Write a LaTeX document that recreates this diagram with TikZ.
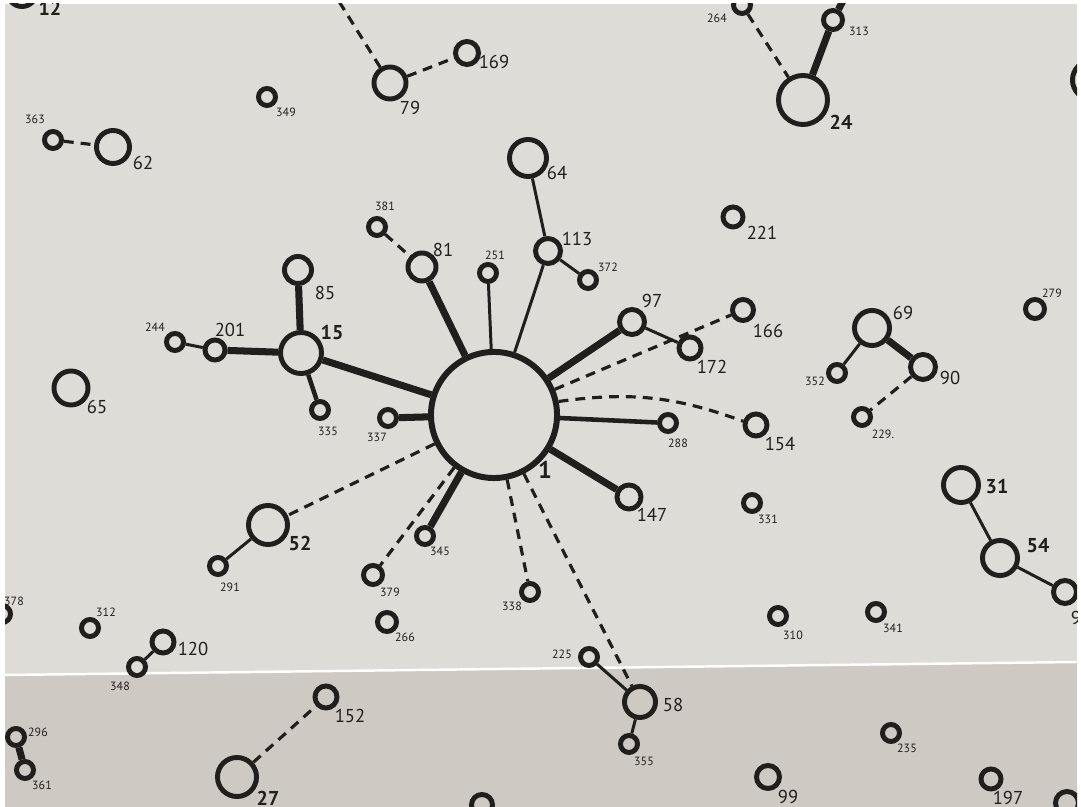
\documentclass[tikz,border=0pt]{standalone}
\usepackage{fontspec}
\setmainfont{PT Sans}
\definecolor{ink}{RGB}{32,31,30}
\definecolor{papertop}{RGB}{221,220,215}
\definecolor{paperbot}{RGB}{207,201,195}
\tikzset{
  ring/.style={circle, draw=ink, line width=1.4pt, inner sep=0pt},
  lab/.style={inner sep=0pt, text=ink, font=\fontsize{5.3}{6}\selectfont},
  slab/.style={inner sep=0pt, text=ink, font=\fontsize{3.4}{4}\selectfont},
  blab/.style={inner sep=0pt, text=ink, font=\bfseries\fontsize{5.7}{6}\selectfont},
  thickc/.style={draw=ink, line width=2pt},
  medc/.style={draw=ink, line width=1.3pt},
  thinc/.style={draw=ink, line width=0.85pt},
  dashc/.style={draw=ink, line width=0.9pt, dash pattern=on 2.8pt off 2pt},
}
\begin{document}
\begin{tikzpicture}[x=0.01cm,y=-0.01cm]
\useasboundingbox (0,0) rectangle (1081,807);
\fill[white] (0,0) rectangle (1081,807);
\fill[papertop] (5,4) rectangle (1077,807);
\fill[paperbot] (5,675) -- (1077,662) -- (1077,807) -- (5,807) -- cycle;
\draw[white, line width=0.7pt] (5,675) -- (1077,662);
\clip (5,4) rectangle (1077,807);

% central node
\node[ring, line width=1.7pt, minimum size=1.26cm] (n1) at (494,415) {};
\node[blab, font=\bfseries\fontsize{6.9}{7}\selectfont] (l1) at (545,470) {1};

% rings
\node[ring, minimum size=0.29cm] (n12) at (22,-8) {};
\node[ring, minimum size=0.17cm] (n363) at (53,140) {};
\node[ring, minimum size=0.33cm] (n62) at (113,147) {};
\node[ring, minimum size=0.17cm] (n349) at (267,97) {};
\node[ring, minimum size=0.32cm] (n79) at (390,83) {};
\node[ring, minimum size=0.23cm] (n169) at (467,53) {};
\node[ring, minimum size=0.37cm] (n64) at (528,158) {};
\node[ring, minimum size=0.17cm] (n381) at (377,227) {};
\node[ring, minimum size=0.28cm] (n81) at (422,267) {};
\node[ring, minimum size=0.17cm] (n251) at (488,273) {};
\node[ring, minimum size=0.25cm] (n113) at (548,251) {};
\node[ring, minimum size=0.17cm] (n372) at (588,280) {};
\node[ring, minimum size=0.20cm] (n221) at (733,217) {};
\node[ring, minimum size=0.17cm] (n264) at (742,5) {};
\node[ring, minimum size=0.49cm] (n24) at (803,100) {};
\node[ring, minimum size=0.19cm] (n313) at (833,20) {};
\node[ring, minimum size=0.39cm] (nR) at (1092,80) {};
\node[ring, minimum size=0.17cm] (n244) at (175,342) {};
\node[ring, minimum size=0.20cm] (n201) at (215,350) {};
\node[ring, minimum size=0.41cm] (n15) at (301,353) {};
\node[ring, minimum size=0.27cm] (n85) at (298,270) {};
\node[ring, minimum size=0.17cm] (n335) at (320,410) {};
\node[ring, minimum size=0.17cm] (n337) at (388,418) {};
\node[ring, minimum size=0.34cm] (n65) at (71,388) {};
\node[ring, minimum size=0.39cm] (n52) at (268,525) {};
\node[ring, minimum size=0.17cm] (n291) at (218,566) {};
\node[ring, minimum size=0.17cm] (n345) at (425,536) {};
\node[ring, minimum size=0.19cm] (n379) at (373,575) {};
\node[ring, minimum size=0.19cm] (n266) at (387,622) {};
\node[ring, minimum size=0.17cm] (n338) at (530,592) {};
\node[ring, minimum size=0.31cm] (n58) at (640,702) {};
\node[ring, minimum size=0.17cm] (n225) at (589,657) {};
\node[ring, minimum size=0.17cm] (n355) at (629,744) {};
\node[ring, minimum size=0.17cm] (n310) at (778,616) {};
\node[ring, minimum size=0.23cm] (n99) at (768,777) {};
\node[ring, minimum size=0.25cm] (n97) at (632,322) {};
\node[ring, minimum size=0.22cm] (n172) at (690,348) {};
\node[ring, minimum size=0.21cm] (n166) at (743,310) {};
\node[ring, minimum size=0.17cm] (n288) at (668,423) {};
\node[ring, minimum size=0.22cm] (n154) at (756,425) {};
\node[ring, minimum size=0.24cm] (n147) at (629,497) {};
\node[ring, minimum size=0.17cm] (n331) at (752,503) {};
\node[ring, minimum size=0.35cm] (n69) at (872,328) {};
\node[ring, minimum size=0.25cm] (n90) at (923,367) {};
\node[ring, minimum size=0.17cm] (n352) at (837,373) {};
\node[ring, minimum size=0.17cm] (n229) at (862,417) {};
\node[ring, minimum size=0.19cm] (n279) at (1035,309) {};
\node[ring, minimum size=0.35cm] (n31) at (961,485) {};
\node[ring, minimum size=0.35cm] (n54) at (1000,558) {};
\node[ring, minimum size=0.23cm] (n96) at (1065,592) {};
\node[ring, minimum size=0.17cm] (n341) at (876,612) {};
\node[ring, minimum size=0.17cm] (n235) at (891,733) {};
\node[ring, minimum size=0.20cm] (n197) at (991,779) {};
\node[ring, minimum size=0.23cm] (nBR) at (1067,803) {};
\node[ring, minimum size=0.21cm] (nB) at (482,805) {};
\node[ring, minimum size=0.17cm] (n378) at (2,614) {};
\node[ring, minimum size=0.17cm] (n312) at (90,628) {};
\node[ring, minimum size=0.22cm] (n120) at (163,642) {};
\node[ring, minimum size=0.17cm] (n348) at (137,667) {};
\node[ring, minimum size=0.17cm] (n296) at (16,737) {};
\node[ring, minimum size=0.17cm] (n361) at (25,770) {};
\node[ring, minimum size=0.39cm] (n27) at (237,777) {};
\node[ring, minimum size=0.22cm] (n152) at (326,697) {};

% free ends
\coordinate (c79up) at (335,-5);
\coordinate (c313up) at (846,-5);

% labels
\node[blab] (l12) at (50,8) {12};
\node[slab] (l363) at (35,119) {363};
\node[lab] (l62) at (143,163) {62};
\node[slab] (l349) at (286,112) {349};
\node[lab] (l79) at (410,108) {79};
\node[lab] (l169) at (494,62) {169};
\node[lab] (l64) at (557,173) {64};
\node[slab] (l381) at (385,206) {381};
\node[lab] (l81) at (443,250) {81};
\node[slab] (l251) at (495,255) {251};
\node[lab] (l113) at (577,239) {113};
\node[slab] (l372) at (608,267) {372};
\node[lab] (l221) at (762,233) {221};
\node[slab] (l264) at (717,18) {264};
\node[blab] (l24) at (841,122) {24};
\node[slab] (l313) at (859,31) {313};
\node[slab] (l244) at (155,327) {244};
\node[lab] (l201) at (230,330) {201};
\node[blab] (l15) at (332,333) {15};
\node[lab] (l85) at (325,293) {85};
\node[slab] (l335) at (328,431) {335};
\node[slab] (l337) at (377,437) {337};
\node[lab] (l65) at (97,407) {65};
\node[blab] (l52) at (300,543) {52};
\node[slab] (l291) at (230,587) {291};
\node[slab] (l345) at (440,551) {345};
\node[slab] (l379) at (390,592) {379};
\node[slab] (l266) at (405,637) {266};
\node[slab] (l338) at (512,606) {338};
\node[lab] (l58) at (673,705) {58};
\node[slab] (l225) at (562,654) {225};
\node[slab] (l355) at (644,761) {355};
\node[slab] (l310) at (793,635) {310};
\node[lab] (l99) at (788,797) {99};
\node[lab] (l97) at (652,301) {97};
\node[lab] (l172) at (712,367) {172};
\node[lab] (l166) at (768,331) {166};
\node[slab] (l288) at (678,443) {288};
\node[lab] (l154) at (780,444) {154};
\node[lab] (l147) at (652,515) {147};
\node[slab] (l331) at (768,519) {331};
\node[lab] (l69) at (903,313) {69};
\node[lab] (l90) at (950,378) {90};
\node[slab] (l352) at (815,381) {352};
\node[slab] (l229) at (883,434) {229.};
\node[slab] (l279) at (1052,293) {279};
\node[blab] (l31) at (997,487) {31};
\node[blab] (l54) at (1038,546) {54};
\node[lab] (l96) at (1081,618) {96};
\node[slab] (l341) at (893,628) {341};
\node[slab] (l235) at (907,748) {235};
\node[lab] (l197) at (1008,798) {197};
\node[slab] (l378) at (14,601) {378};
\node[slab] (l312) at (106,612) {312};
\node[lab] (l120) at (193,649) {120};
\node[slab] (l348) at (120,686) {348};
\node[slab] (l296) at (38,732) {296};
\node[slab] (l361) at (42,785) {361};
\node[blab] (l27) at (268,798) {27};
\node[lab] (l152) at (350,716) {152};

% thick connectors
\draw[thickc] (n1) -- (n15);
\draw[thickc] (n1) -- (n81);
\draw[thickc] (n1) -- (n337);
\draw[thickc] (n1) -- (n97);
\draw[thickc] (n1) -- (n147);
\draw[thickc] (n1) -- (n345);
\draw[thickc] (n15) -- (n85);
\draw[thickc] (n201) -- (n15);
\draw[thickc] (n69) -- (n90);
\draw[thickc] (n24) -- (n313);
\draw[thickc] (n313) -- (c313up);
\draw[thickc] (n296) -- (n361);
% medium connectors
\draw[medc] (n1) -- (n288);
\draw[medc] (n15) -- (n335);
% thin connectors
\draw[thinc] (n1) -- (n251);
\draw[thinc] (n1) -- (n113);
\draw[thinc] (n64) -- (n113);
\draw[thinc] (n113) -- (n372);
\draw[thinc] (n97) -- (n172);
\draw[thinc] (n244) -- (n201);
\draw[thinc] (n52) -- (n291);
\draw[thinc] (n69) -- (n352);
\draw[thinc] (n31) -- (n54);
\draw[thinc] (n54) -- (n96);
\draw[thinc] (n225) -- (n58);
\draw[thinc] (n58) -- (n355);
\draw[thinc] (n348) -- (n120);
% dashed connectors
\draw[dashc] (n363) -- (n62);
\draw[dashc] (n79) -- (n169);
\draw[dashc] (n79) -- (c79up);
\draw[dashc] (n381) -- (n81);
\draw[dashc] (n264) -- (n24);
\draw[dashc] (n1) -- (n166);
\draw[dashc] (n1) to[bend left=14] (n154);
\draw[dashc] (n1) -- (n58);
\draw[dashc] (n1) -- (n338);
\draw[dashc] (n1) -- (n379);
\draw[dashc] (n1) -- (n52);
\draw[dashc] (n90) -- (n229);
\draw[dashc] (n27) -- (n152);
\end{tikzpicture}
\end{document}
